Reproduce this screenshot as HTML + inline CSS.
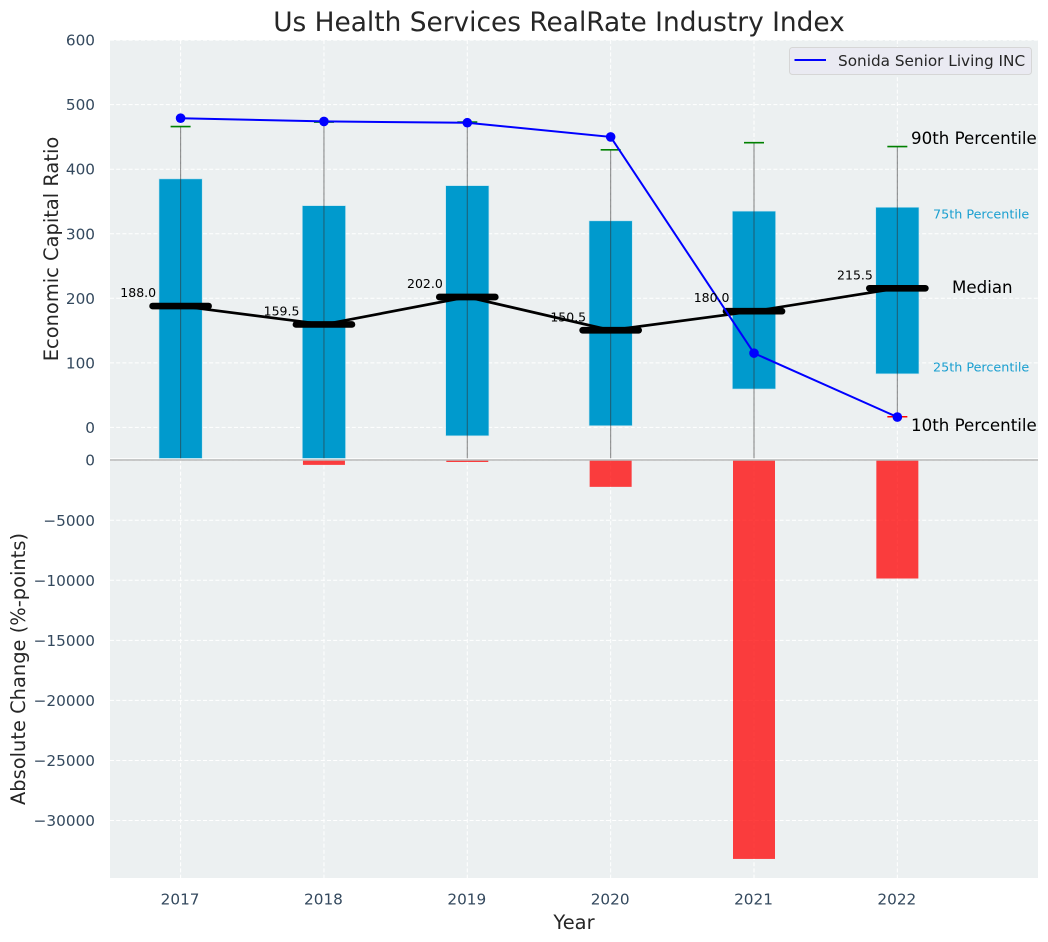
<!DOCTYPE html>
<html lang="en">
<head>
<meta charset="utf-8">
<title>Us Health Services RealRate Industry Index</title>
<style>
html,body{margin:0;padding:0;background:#fff;}
svg{display:block;font-family:"DejaVu Sans","Liberation Sans",sans-serif;}
</style>
</head>
<body>
<svg id="chart" xmlns="http://www.w3.org/2000/svg" width="1048" height="942" viewBox="0 0 1048 942">
  <defs>
    <clipPath id="top-clip"><rect x="110" y="40" width="928" height="418.3"/></clipPath>
    <clipPath id="bottom-clip"><rect x="110" y="459" width="928" height="419"/></clipPath>
  </defs>
  <rect x="110" y="40" width="928" height="418.2" fill="#ecf0f1"/>
  <rect x="110" y="459.2" width="928" height="418.8" fill="#ecf0f1"/>
  <g id="grid"></g>
  <g id="lower" clip-path="url(#bottom-clip)"></g>
  <g id="upper" clip-path="url(#top-clip)"></g>
  <g id="labels"></g>
  <text x="559" y="31" text-anchor="middle" font-size="26.4" fill="#262626">Us Health Services RealRate Industry Index</text>
  <text transform="translate(58,249) rotate(-90)" text-anchor="middle" font-size="19.45" fill="#262626">Economic Capital Ratio</text>
  <text transform="translate(25,669) rotate(-90)" text-anchor="middle" font-size="19.45" fill="#262626">Absolute Change (%-points)</text>
  <text x="574" y="929" text-anchor="middle" font-size="19.45" fill="#262626">Year</text>
  <g>
    <rect x="789.5" y="47.5" width="242" height="27" rx="3" fill="#eaeaf2" stroke="#d6d6d6" stroke-width="1"/>
    <line x1="794.5" x2="826" y1="60" y2="60" stroke="#0000ff" stroke-width="2"/>
    <text x="838" y="66" font-size="15.28" fill="#262626">Sonida Senior Living INC</text>
  </g>
  <text x="911" y="144" font-size="16.67" fill="#000">90th Percentile</text>
  <text x="933" y="218.5" font-size="12.75" fill="#1a9fd0">75th Percentile</text>
  <text x="952" y="293" font-size="16.67" fill="#000">Median</text>
  <text x="933" y="371.5" font-size="12.75" fill="#1a9fd0">25th Percentile</text>
  <text x="911" y="431" font-size="16.67" fill="#000">10th Percentile</text>
</svg>
<script>
const years = [2017, 2018, 2019, 2020, 2021, 2022];
const p90 = [466, 473, 473, 430, 441, 435];
const p75 = [385, 343.5, 374.5, 320, 335, 341];
const medians = [188, 159.5, 202, 150.5, 180, 215.5];
const p25 = [-60, -60, -13, 2.6, 59.5, 83];
const p10 = [-120, -120, -90, -70, -60, 16.5];
const company = [479, 474, 472, 450, 115, 16];
const absChange = [-10, -390, -150, -2220, -33200, -9850];
const upperTicks = [0, 100, 200, 300, 400, 500, 600];
const lowerTicks = [0, -5000, -10000, -15000, -20000, -25000, -30000];

const NS = 'http://www.w3.org/2000/svg';
const xScale = i => 180.6 + 143.35 * i;
const yUpper = v => 427.4 - 0.6455 * v;
const yLower = v => 460.2 - 0.01201 * v;
const fmtLower = v => String(v).replace('-', '\u2212');

function make(tag, attrs, parent, text) {
  const el = document.createElementNS(NS, tag);
  for (const k in attrs) el.setAttribute(k, attrs[k]);
  if (text !== undefined) el.textContent = text;
  parent.appendChild(el);
  return el;
}

const gridG = document.getElementById('grid');
const lowerG = document.getElementById('lower');
const upperG = document.getElementById('upper');
const labelsG = document.getElementById('labels');
const gridStyle = {stroke: '#ffffff', 'stroke-width': 1, 'stroke-dasharray': '4 2.2'};

upperTicks.forEach(v => {
  const g = make('line', Object.assign({x1: 110, x2: 1038, y1: yUpper(v), y2: yUpper(v)}, gridStyle), gridG);
  
  
  const t = make('text', {x: 95, y: yUpper(v) + 5.5, 'text-anchor': 'end', 'font-size': 15.28, fill: '#34495e'}, labelsG, String(v));
  
  
});

lowerTicks.forEach(v => {
  const g = make('line', Object.assign({x1: 110, x2: 1038, y1: yLower(v), y2: yLower(v)}, gridStyle), gridG);
  
  
  const t = make('text', {x: 95, y: yLower(v) + 5.5, 'text-anchor': 'end', 'font-size': 15.28, fill: '#34495e'}, labelsG, fmtLower(v));
  
  
});

years.forEach((yr, i) => {
  const x = xScale(i);
  const a = make('line', Object.assign({x1: x, x2: x, y1: 40, y2: 458.2}, gridStyle), gridG);
  
  
  const b = make('line', Object.assign({x1: x, x2: x, y1: 459.2, y2: 878}, gridStyle), gridG);
  
  
  const t = make('text', {x: x - 0.5, y: 904.5, 'text-anchor': 'middle', 'font-size': 15.28, fill: '#34495e'}, labelsG, String(yr));
  
  
});

absChange.forEach((v, i) => {
  const y0 = yLower(0), y1 = yLower(v);
  const r = make('rect', {x: xScale(i) - 21, y: y0, width: 42, height: Math.max(0, y1 - y0), fill: '#ff0000', 'fill-opacity': 0.75}, lowerG);
  
  
});

const zero = make('line', {x1: 110, x2: 1038, y1: 460, y2: 460, stroke: '#b8b8b8', 'stroke-width': 1.4}, lowerG);



years.forEach((yr, i) => {
  const x = xScale(i);
  const top = yUpper(p75[i]), bot = yUpper(p25[i]);
  const r = make('rect', {x: x - 21.6, y: top, width: 43.2, height: bot - top, fill: '#009acd', stroke: '#bfe3ef', 'stroke-width': 0.6}, upperG);
  
  
  const w = make('line', {x1: x, x2: x, y1: yUpper(p90[i]), y2: yUpper(p10[i]), stroke: '#333333', 'stroke-opacity': 0.55, 'stroke-width': 1.1}, upperG);
  
  
  const c90 = make('line', {x1: x - 10, x2: x + 10, y1: yUpper(p90[i]), y2: yUpper(p90[i]), stroke: '#008000', 'stroke-width': 1.6}, upperG);
  
  
  const c10 = make('line', {x1: x - 10, x2: x + 10, y1: yUpper(p10[i]), y2: yUpper(p10[i]), stroke: '#ff0000', 'stroke-width': 1.6}, upperG);
  
  
});

const medianLine = make('polyline', {points: medians.map((v, i) => xScale(i) + ',' + yUpper(v)).join(' '), fill: 'none', stroke: '#000', 'stroke-width': 2.7}, upperG);



medians.forEach((v, i) => {
  const x = xScale(i), y = yUpper(v);
  const m = make('line', {x1: x - 28, x2: x + 28, y1: y, y2: y, stroke: '#000', 'stroke-width': 6.7, 'stroke-linecap': 'round'}, upperG);
  
  
  const t = make('text', {x: x - 24.5, y: y - 9, 'text-anchor': 'end', 'font-size': 12.5, fill: '#000'}, labelsG, v.toFixed(1));
  
  
});

const companyLine = make('polyline', {points: company.map((v, i) => xScale(i) + ',' + yUpper(v)).join(' '), fill: 'none', stroke: '#0000ff', 'stroke-width': 2}, upperG);



company.forEach((v, i) => {
  const d = make('circle', {cx: xScale(i), cy: yUpper(v), r: 4.8, fill: '#0000ff'}, upperG);
  
  
});
</script>
</body>
</html>
